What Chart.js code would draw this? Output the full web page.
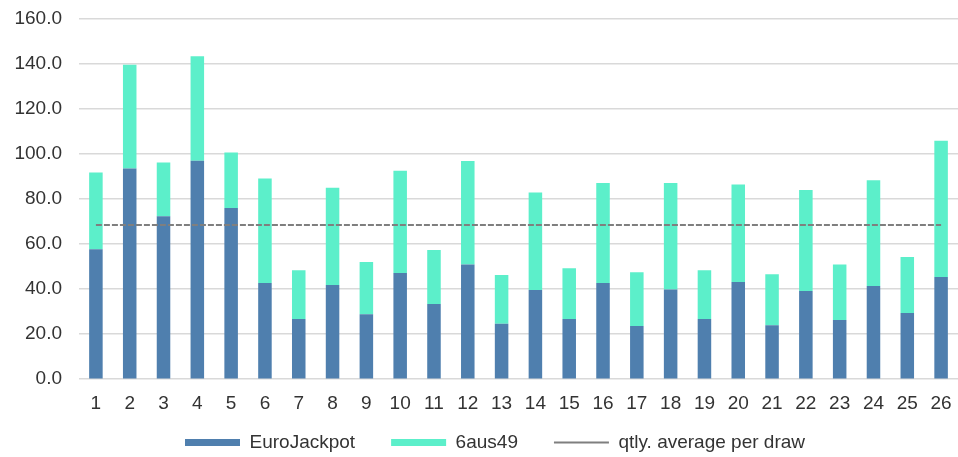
<!DOCTYPE html>
<html>
<head>
<meta charset="utf-8">
<script src="https://cdn.jsdelivr.net/npm/chart.js@4/dist/chart.umd.min.js"></script>
<style>
  html, body { margin: 0; padding: 0; background: #fff; }
  #wrap { width: 958px; height: 457px; }
</style>
</head>
<body>
<div id="wrap"><canvas id="drawChart"></canvas></div>
<script>
/* ---------- DATA ---------- */
const draws = ["1","2","3","4","5","6","7","8","9","10","11","12","13",
               "14","15","16","17","18","19","20","21","22","23","24","25","26"];
const euroJackpot = [57.7, 93.6, 72.4, 97.0, 76.1, 42.7, 26.7, 41.8, 28.9, 47.2, 33.4, 50.9, 24.6,
                     39.6, 26.7, 42.7, 23.6, 39.9, 26.7, 43.2, 24.0, 39.2, 26.3, 41.4, 29.4, 45.4];
const sechsAus49  = [34.1, 46.1, 23.9, 46.4, 24.6, 46.4, 21.7, 43.2, 23.2, 45.4, 24.0, 46.0, 21.7,
                     43.3, 22.6, 44.4, 23.9, 47.2, 21.7, 43.3, 22.6, 44.8, 24.7, 47.0, 24.9, 60.5];
const qtlyAverage = [68.5, 68.5, 68.5, 68.5, 68.5, 68.5, 68.5, 68.5, 68.5, 68.5, 68.5, 68.5, 68.5,
                     68.5, 68.5, 68.5, 68.5, 68.5, 68.5, 68.5, 68.5, 68.5, 68.5, 68.5, 68.5, 68.5];
const yTicks = { min: 0, max: 160, step: 20 };

/* ---------- STYLE ---------- */
const FONT = "'Liberation Sans', Arial, sans-serif";
const TEXT = "#333333";

// put the legend where the reference has it (left-shifted, a bit higher)
const legendShift = {
  id: "legendShift",
  afterLayout(chart) {
    chart.legend.left = 149;
    chart.legend.top = 397;
  }
};

new Chart(document.getElementById("drawChart"), {
  data: {
    labels: draws,
    datasets: [
      { type: "bar", label: "EuroJackpot", data: euroJackpot, backgroundColor: "#4f7fae",
        stack: "s", order: 1, barPercentage: 0.4, categoryPercentage: 1 },
      { type: "bar", label: "6aus49", data: sechsAus49, backgroundColor: "#5cefca",
        stack: "s", order: 1, barPercentage: 0.4, categoryPercentage: 1 },
      { type: "line", label: "qtly. average per draw", data: qtlyAverage, borderColor: "#7f7f7f",
        borderWidth: 2, borderDash: [6, 2], pointRadius: 0, fill: false, order: 0 }
    ]
  },
  options: {
    responsive: true,
    maintainAspectRatio: false,
    animation: false,
    layout: { padding: { left: 13, right: 0, top: 19, bottom: 0 } },
    scales: {
      x: {
        stacked: true,
        grid: { display: false, drawTicks: false },
        border: { display: false },
        ticks: { color: TEXT, font: { family: FONT, size: 19 }, padding: 13, maxRotation: 0 },
        afterFit(s) { s.paddingLeft = 0; s.paddingRight = 0; }
      },
      y: {
        stacked: true,
        min: yTicks.min, max: yTicks.max,
        grid: { color: "#d9d9d9", lineWidth: 1.5, drawTicks: false },
        border: { display: false },
        ticks: { stepSize: yTicks.step, color: TEXT, font: { family: FONT, size: 19 }, padding: 17,
                 callback: v => v.toFixed(1) },
        afterFit(s) { s.paddingTop = 0; s.paddingBottom = 0; s.width = 66; }
      }
    },
    plugins: {
      tooltip: { enabled: false },
      legend: {
        position: "bottom",
        align: "start",
        maxHeight: 29,
        labels: {
          color: TEXT,
          font: { family: FONT, size: 19 },
          usePointStyle: true,
          pointStyleWidth: 55,
          boxHeight: 7,
          padding: 36,
          generateLabels(chart) {
            const items = Chart.defaults.plugins.legend.labels.generateLabels(chart);
            items.forEach(it => { it.pointStyle = it.datasetIndex === 2 ? "line" : "rect"; });
            return items.sort((a, b) => a.datasetIndex - b.datasetIndex);
          }
        }
      }
    }
  },
  plugins: [legendShift]
});
</script>
</body>
</html>
